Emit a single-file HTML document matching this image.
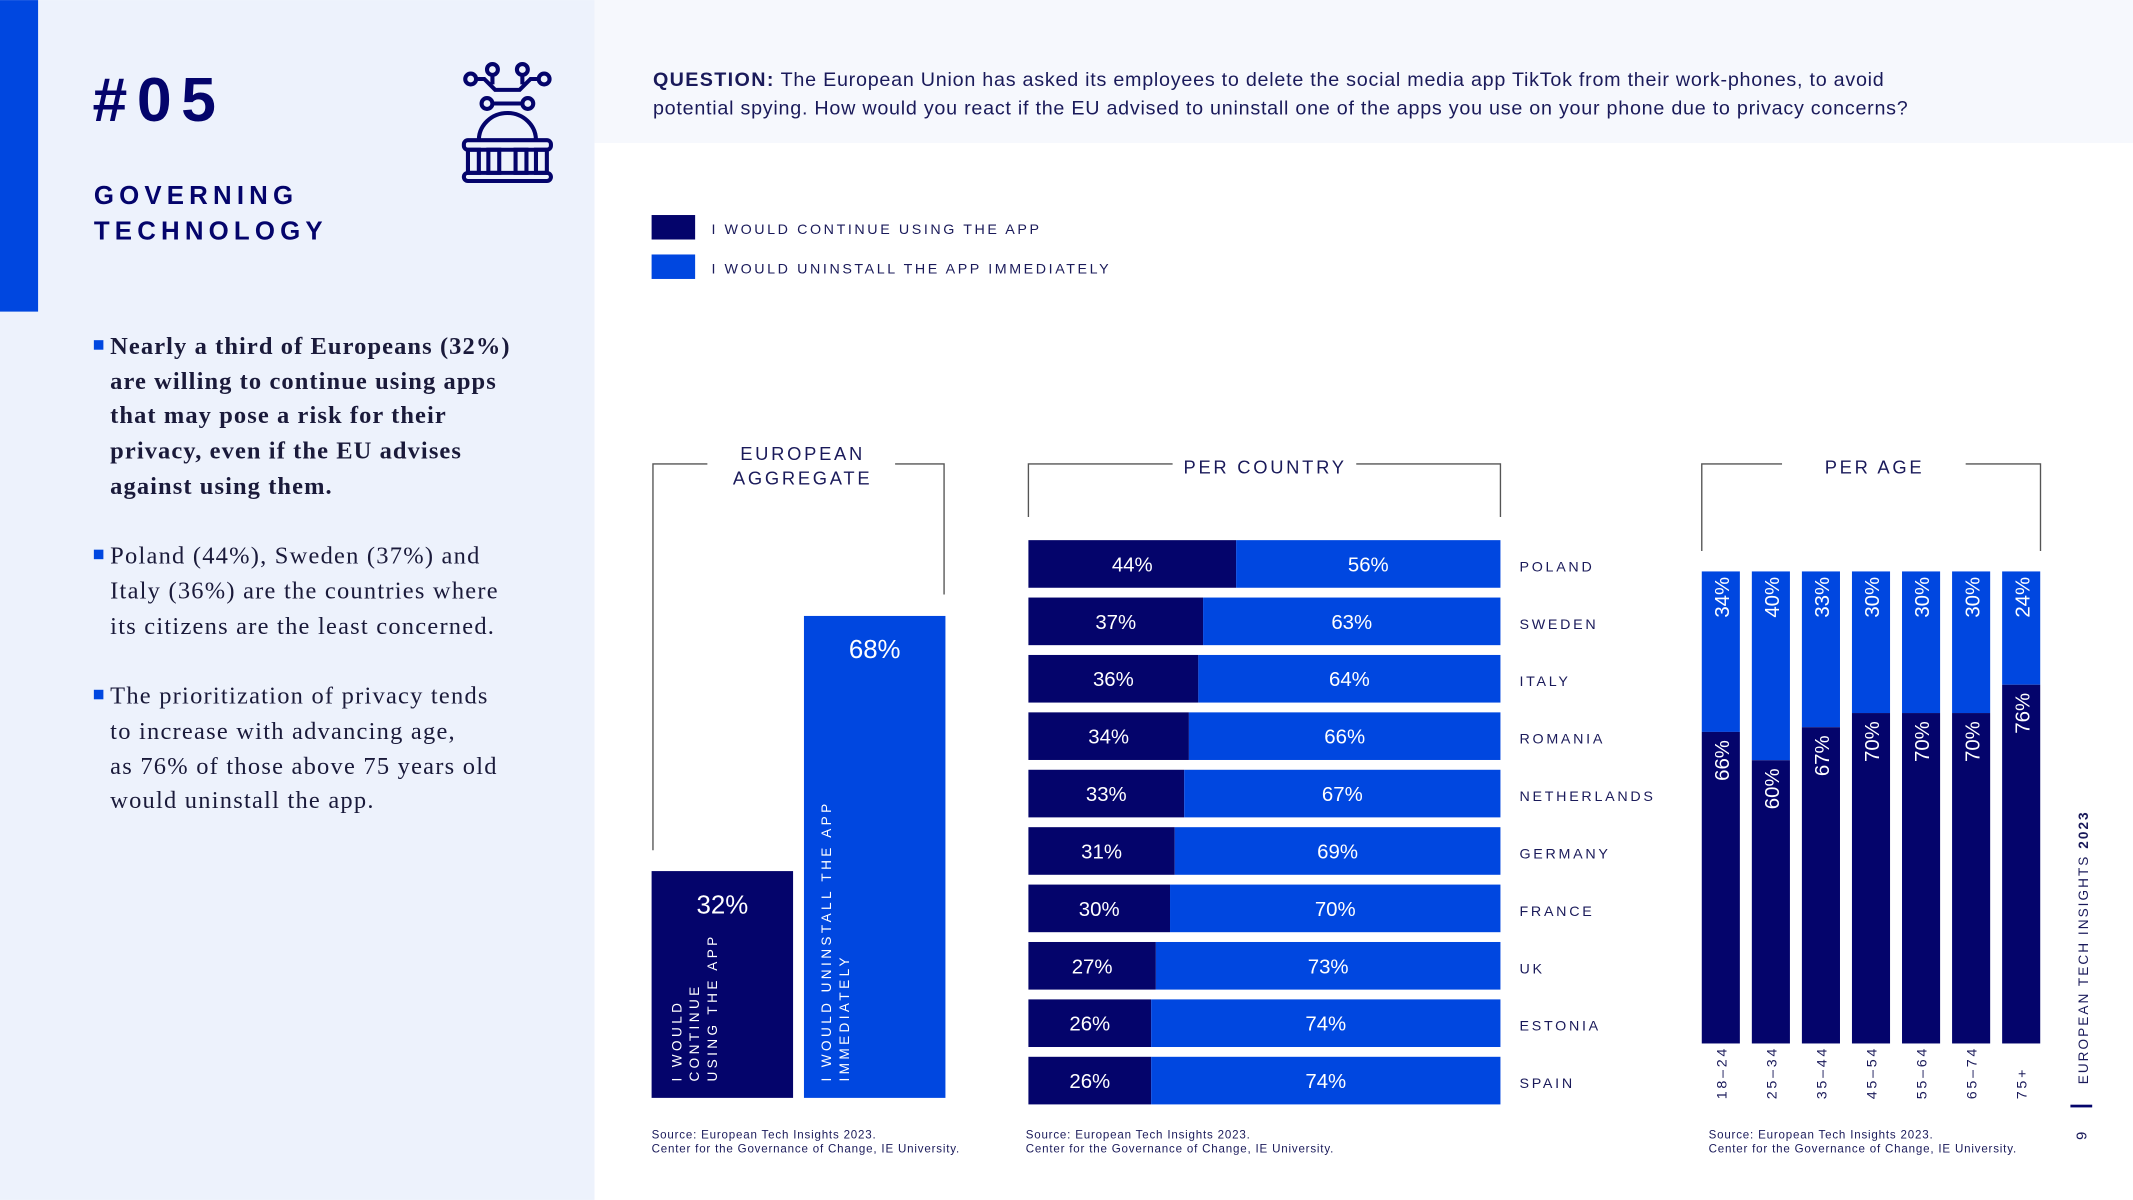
<!DOCTYPE html>
<html><head><meta charset="utf-8"><style>
html,body{margin:0;padding:0;background:#fff;}
svg{display:block;}
text{font-family:"Liberation Sans",sans-serif;}
.serif{font-family:"Liberation Serif",serif;}
</style></head><body>
<svg id="page" width="2133" height="1200" viewBox="0 0 1568 882" xmlns="http://www.w3.org/2000/svg">
  <rect x="0" y="0" width="437" height="882" fill="#edf2fc"/>
  <rect x="0" y="0" width="28" height="229" fill="#0047e0"/>
  <rect x="437" y="0" width="1131" height="105" fill="#f6f8fd"/>
  <text x="68" y="89" font-size="46" font-weight="900" fill="#04046b" letter-spacing="7">#05</text>
  <text font-size="19" font-weight="900" fill="#04046b" letter-spacing="3.8"><tspan x="69" y="150">GOVERNING</tspan><tspan x="69" y="176">TECHNOLOGY</tspan></text>
  <g fill="none" stroke="#04046b" stroke-width="3">
    <circle cx="346" cy="58" r="4"/><circle cx="362" cy="51" r="4"/><circle cx="384" cy="51" r="4"/><circle cx="400" cy="58" r="4"/>
    <circle cx="358" cy="76" r="4"/><circle cx="388" cy="76" r="4"/>
    <path d="M350 58 H356 L364 66 H382 L390 58 H396 M362 76 H384 M362 55 V62 M384 55 V62"/>
    <path d="M352 103 A21 20 0 0 1 394 103"/>
    <rect x="341" y="103" width="64" height="7" rx="3"/>
    <rect x="344" y="110" width="8" height="17"/><rect x="359" y="110" width="8" height="17"/><rect x="379" y="110" width="8" height="17"/><rect x="394" y="110" width="8" height="17"/>
    <rect x="341" y="127" width="64" height="6" rx="3"/>
  </g>
  <g class="serif" font-size="18" fill="#1a1a3a" letter-spacing="0.9">
    <rect x="69" y="250" width="7" height="7" fill="#0047e0"/>
    <text class="serif" font-weight="bold" letter-spacing="0.8"><tspan x="81" y="260">Nearly a third of Europeans (32%)</tspan><tspan x="81" y="286">are willing to continue using apps</tspan><tspan x="81" y="311">that may pose a risk for their</tspan><tspan x="81" y="337">privacy, even if the EU advises</tspan><tspan x="81" y="363">against using them.</tspan></text>
    <rect x="69" y="404" width="7" height="7" fill="#0047e0"/>
    <text class="serif"><tspan x="81" y="414">Poland (44%), Sweden (37%) and</tspan><tspan x="81" y="440">Italy (36%) are the countries where</tspan><tspan x="81" y="466">its citizens are the least concerned.</tspan></text>
    <rect x="69" y="507" width="7" height="7" fill="#0047e0"/>
    <text class="serif"><tspan x="81" y="517">The prioritization of privacy tends</tspan><tspan x="81" y="543">to increase with advancing age,</tspan><tspan x="81" y="569">as 76% of those above 75 years old</tspan><tspan x="81" y="594">would uninstall the app.</tspan></text>
  </g>
  <text font-size="14.5" fill="#1a1a5a" letter-spacing="0.55"><tspan x="480" y="63"><tspan font-weight="bold" letter-spacing="1">QUESTION:</tspan> The European Union has asked its employees to delete the social media app TikTok from their work-phones, to avoid</tspan><tspan x="480" y="84">potential spying. How would you react if the EU advised to uninstall one of the apps you use on your phone due to privacy concerns?</tspan></text>
  <g font-size="10.5" fill="#1a1a5a" letter-spacing="1.9">
    <rect x="479" y="158" width="32" height="18" fill="#04046b"/>
    <text x="523" y="172">I WOULD CONTINUE USING THE APP</text>
    <rect x="479" y="187" width="32" height="18" fill="#0047e0"/>
    <text x="523" y="201">I WOULD UNINSTALL THE APP IMMEDIATELY</text>
  </g>
  <g stroke="#555" stroke-width="1" fill="none">
    <path d="M480 625 V341 H520 M658 341 H694 V437"/>
    <path d="M756 380 V341 H862 M997 341 H1103 V380"/>
    <path d="M1251 405 V341 H1310 M1445 341 H1500 V405"/>
  </g>
  <g font-size="13.5" fill="#1a1a5a" letter-spacing="2" text-anchor="middle">
    <text><tspan x="590" y="338">EUROPEAN</tspan><tspan x="590" y="356">AGGREGATE</tspan></text>
    <text x="930" y="348">PER COUNTRY</text>
    <text x="1378" y="348">PER AGE</text>
  </g>
  <g id="agg"></g>
  <g id="country"></g>
  <g id="age"></g>
  <g font-size="8.5" fill="#1a1a5a" letter-spacing="0.6">
    <text><tspan x="479" y="837">Source: European Tech Insights 2023.</tspan><tspan x="479" y="847">Center for the Governance of Change, IE University.</tspan></text>
    <text><tspan x="754" y="837">Source: European Tech Insights 2023.</tspan><tspan x="754" y="847">Center for the Governance of Change, IE University.</tspan></text>
    <text><tspan x="1256" y="837">Source: European Tech Insights 2023.</tspan><tspan x="1256" y="847">Center for the Governance of Change, IE University.</tspan></text>
  </g>
  <text transform="translate(1535,797) rotate(-90)" font-size="10" fill="#1a1a5a" letter-spacing="1.5">EUROPEAN TECH INSIGHTS <tspan font-weight="bold">2023</tspan></text>
  <rect x="1522" y="812" width="16" height="2" fill="#04046b"/>
  <text transform="translate(1534,838) rotate(-90)" font-size="11" fill="#1a1a5a">9</text>
</svg>
<script>
const NS='http://www.w3.org/2000/svg';
const DARK='#04046b', BLUE='#0047e0';
const aggCategories=['continue','uninstall'];
const aggValues=[32,68];
const countries=['POLAND','SWEDEN','ITALY','ROMANIA','NETHERLANDS','GERMANY','FRANCE','UK','ESTONIA','SPAIN'];
const countryContinue=[44,37,36,34,33,31,30,27,26,26];
const countryUninstall=[56,63,64,66,67,69,70,73,74,74];
const ages=['18–24','25–34','35–44','45–54','55–64','65–74','75+'];
const ageContinue=[34,40,33,30,30,30,24];
const ageUninstall=[66,60,67,70,70,70,76];

function mk(tag,attrs,parent,txt){const e=document.createElementNS(NS,tag);for(const k in attrs)e.setAttribute(k,attrs[k]);if(txt!==undefined)e.textContent=txt;parent.appendChild(e);return e;}

const agg=document.getElementById('agg');
const aggY=v=>807-v*5.21;
const aggX=i=>479+i*112;
aggValues.forEach((v,i)=>{
  const r=mk('rect',{x:aggX(i),y:aggY(v),width:104,height:807-aggY(v),fill:i?BLUE:DARK},agg);
  
  
  const t=mk('text',{x:aggX(i)+52,y:aggY(v)+31,'font-size':19,fill:'#fff','text-anchor':'middle'},agg,v+'%');
  
  
});
const lab1=mk('text',{transform:'translate(501,795) rotate(-90)','font-size':10,fill:'#fff','letter-spacing':2.5},agg);


mk('tspan',{x:0,y:0},lab1,'I WOULD');mk('tspan',{x:0,y:13},lab1,'CONTINUE');mk('tspan',{x:0,y:26},lab1,'USING THE APP');
const lab2=mk('text',{transform:'translate(611,795) rotate(-90)','font-size':10,fill:'#fff','letter-spacing':2.5},agg);


mk('tspan',{x:0,y:0},lab2,'I WOULD UNINSTALL THE APP');mk('tspan',{x:0,y:13},lab2,'IMMEDIATELY');

const cg=document.getElementById('country');
const cx=v=>756+v*3.47;
const cy=i=>397+i*42.2;
countries.forEach((c,i)=>{
  const y=cy(i);
  const d=mk('rect',{x:756,y:y,width:cx(countryContinue[i])-756,height:35,fill:DARK},cg);
  
  
  const b=mk('rect',{x:cx(countryContinue[i]),y:y,width:cx(countryContinue[i]+countryUninstall[i])-cx(countryContinue[i]),height:35,fill:BLUE},cg);
  
  
  const t1=mk('text',{x:(756+cx(countryContinue[i]))/2,y:y+23,'font-size':15,fill:'#fff','text-anchor':'middle'},cg,countryContinue[i]+'%');
  
  
  const t2=mk('text',{x:(cx(countryContinue[i])+cx(100))/2,y:y+23,'font-size':15,fill:'#fff','text-anchor':'middle'},cg,countryUninstall[i]+'%');
  
  
  const l=mk('text',{x:1117,y:y+23,'font-size':10.5,fill:'#1a1a5a','letter-spacing':2},cg,c);
  
  
});

const ag=document.getElementById('age');
const ax=i=>1251+i*36.8;
const ay=v=>767-v*3.47;
ages.forEach((a,i)=>{
  const x=ax(i);
  const top=mk('rect',{x:x,y:ay(100),width:28,height:ay(ageUninstall[i])-ay(100),fill:BLUE},ag);
  
  
  const bot=mk('rect',{x:x,y:ay(ageUninstall[i]),width:28,height:767-ay(ageUninstall[i]),fill:DARK},ag);
  
  
  const t1=mk('text',{transform:`translate(${x+20},${ay(100)+34}) rotate(-90)`,'font-size':15,fill:'#fff'},ag,ageContinue[i]+'%');
  
  
  const t2=mk('text',{transform:`translate(${x+20},${ay(ageUninstall[i])+36}) rotate(-90)`,'font-size':15,fill:'#fff'},ag,ageUninstall[i]+'%');
  
  
  const l=mk('text',{transform:`translate(${x+18},${808}) rotate(-90)`,'font-size':10.5,fill:'#1a1a5a','letter-spacing':2},ag,a);
  
  
});
</script>
</body></html>
